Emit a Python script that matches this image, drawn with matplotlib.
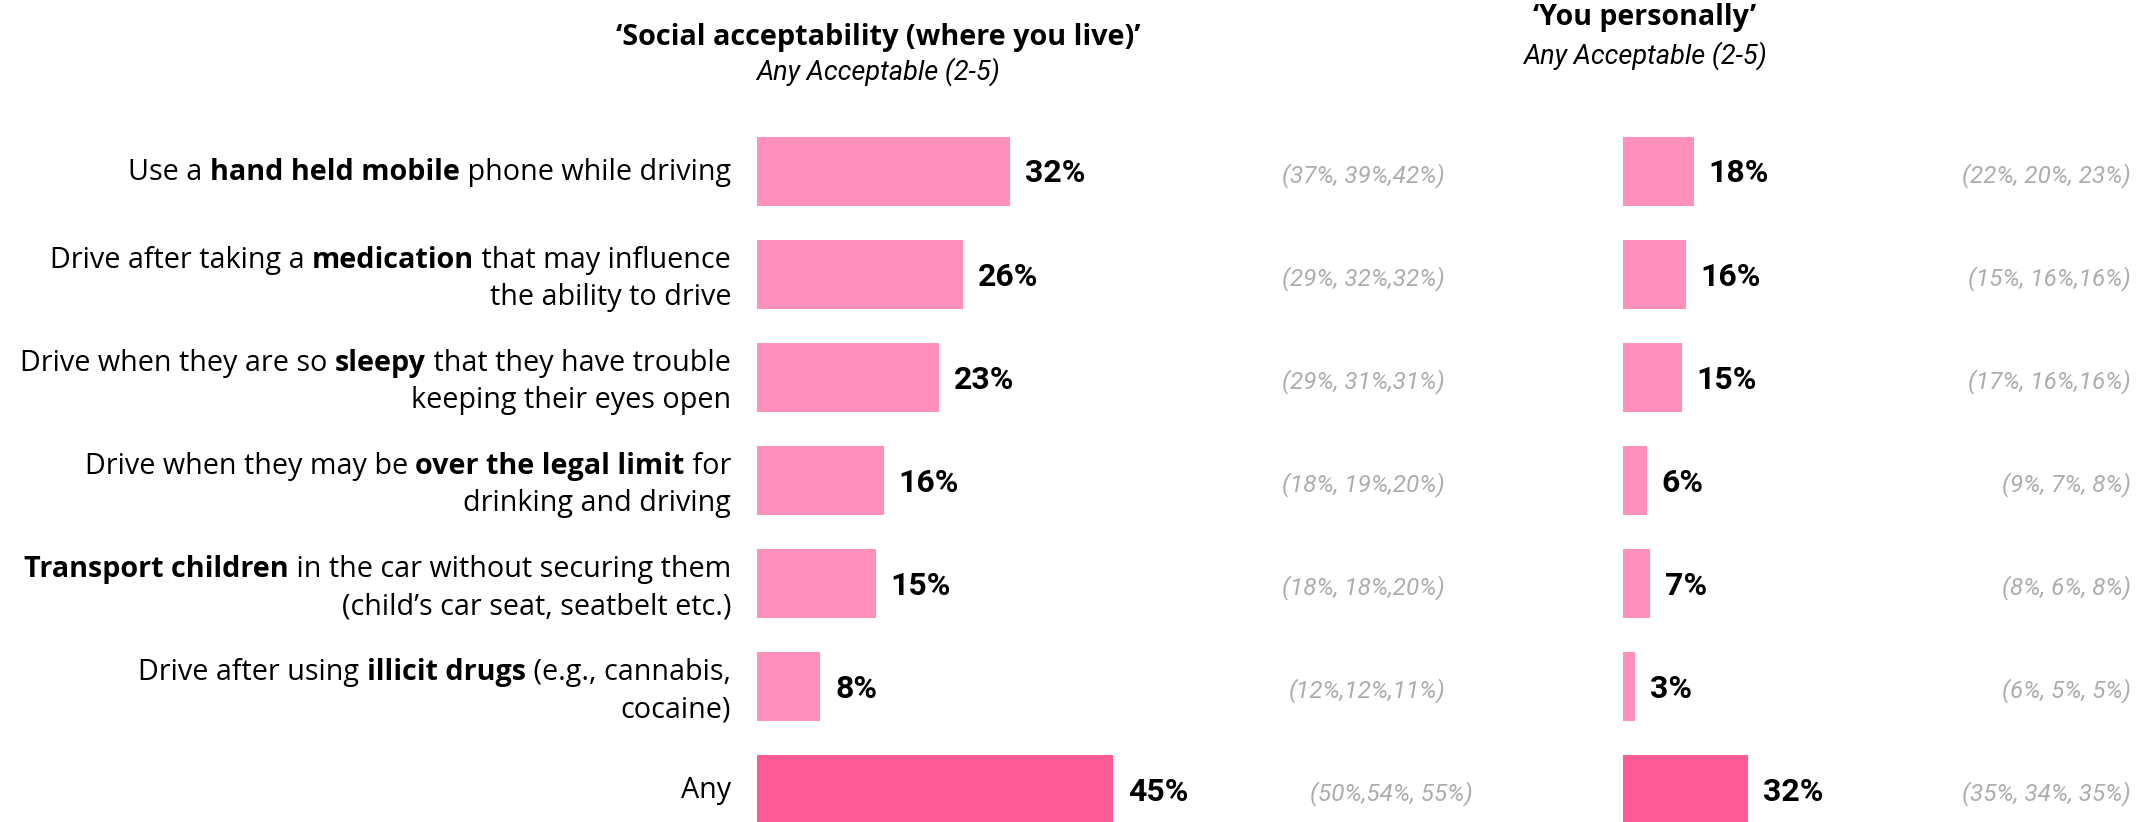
import matplotlib.pyplot as plt

plt.rcParams['font.family'] = ['Roboto', 'DejaVu Sans']

# labels: ** marks the bold part, one string per line
labels = [
    ["Use a **hand held mobile** phone while driving"],
    ["Drive after taking a **medication** that may influence", "the ability to drive"],
    ["Drive when they are so **sleepy** that they have trouble", "keeping their eyes open"],
    ["Drive when they may be **over the legal limit** for", "drinking and driving"],
    ["**Transport children** in the car without securing them", "(child\u2019s car seat, seatbelt etc.)"],
    ["Drive after using **illicit drugs** (e.g., cannabis,", "cocaine)"],
    ["Any"],
]
social = [32, 26, 23, 16, 15, 8, 45]
personal = [18, 16, 15, 6, 7, 3, 32]
social_prev = ["(37%, 39%,42%)", "(29%, 32%,32%)", "(29%, 31%,31%)", "(18%, 19%,20%)",
               "(18%, 18%,20%)", "(12%,12%,11%)", "(50%,54%, 55%)"]
personal_prev = ["(22%, 20%, 23%)", "(15%, 16%,16%)", "(17%, 16%,16%)", "(9%, 7%, 8%)",
                 "(8%, 6%, 8%)", "(6%, 5%, 5%)", "(35%, 34%, 35%)"]

LIGHT = '#FF8FBB'
DARK = '#FF5A96'
GREY = '#ADADAD'
LABEL_FONT = ['Open Sans', 'DejaVu Sans']

W, H = 2151, 822
ROW0, STEP = 171.5, 103.0

fig = plt.figure(figsize=(W / 100, H / 100), dpi=100)
renderer = fig.canvas.get_renderer()


def fy(py):
    # pixel from top -> figure fraction
    return 1 - py / H


def row_px(i):
    return ROW0 + i * STEP


def make_axes(left_px, px_per_pct):
    ax = fig.add_axes([left_px / W, 0, px_per_pct * 60 / W, 1])
    ax.set_xlim(0, 60)
    ax.set_ylim((H - ROW0) / STEP, -ROW0 / STEP)
    ax.axis('off')
    return ax


def text_width(s, **kw):
    t = fig.text(0, 0, '|' + s + '|', **kw)
    w = t.get_window_extent(renderer).width
    t.remove()
    t = fig.text(0, 0, '||', **kw)
    w -= t.get_window_extent(renderer).width
    t.remove()
    return w


def rich_line(x_right, y_center, line, size=20.7):
    parts = line.split('**')
    styles = ['normal' if k % 2 == 0 else 'bold' for k in range(len(parts))]
    widths = [text_width(p, fontsize=size, fontweight=s, family=LABEL_FONT)
              for p, s in zip(parts, styles)]
    x = x_right - sum(widths)
    base = y_center + size * 1.389 * 0.357
    for p, s, w in zip(parts, styles, widths):
        if p:
            fig.text(x / W, fy(base), p, fontsize=size, fontweight=s, family=LABEL_FONT,
                     ha='left', va='baseline', color='black')
        x += w


ax1 = make_axes(757, 7.92)
ax2 = make_axes(1623, 3.92)

colors = [LIGHT] * (len(social) - 1) + [DARK]
rows = list(range(len(social)))

for ax, vals in ((ax1, social), (ax2, personal)):
    ax.barh(rows, vals, height=0.666, color=colors)
    for i, v in enumerate(vals):
        ax.annotate(f"{v}%", (v, i), xytext=(15, -2), textcoords='offset pixels',
                    ha='left', va='center', fontsize=23, fontweight='bold')

# category labels
for i, lines in enumerate(labels):
    c = row_px(i)
    if len(lines) == 1:
        rich_line(731, c - 2, lines[0])
    else:
        rich_line(731, c + 2 - 18.5, lines[0])
        rich_line(731, c + 2 + 18.5, lines[1])

# previous waves in grey
for i, (a, b) in enumerate(zip(social_prev, personal_prev)):
    c = row_px(i)
    xa = 1473 if i == len(social_prev) - 1 else 1445
    fig.text(xa / W, fy(c + 4), a, ha='right', va='center', fontsize=17.5,
             style='italic', color=GREY)
    fig.text(2131 / W, fy(c + 4), b, ha='right', va='center', fontsize=17.5,
             style='italic', color=GREY)

# column headers
fig.text(878 / W, fy(37), "\u2018Social acceptability (where you live)\u2019", ha='center',
         va='center', fontsize=20.8, fontweight='bold', family=LABEL_FONT)
fig.text(878 / W, fy(72), "Any Acceptable (2-5)", ha='center', va='center',
         fontsize=19.5, style='italic')
fig.text(1645 / W, fy(18), "\u2018You personally\u2019", ha='center', va='center',
         fontsize=20.5, fontweight='bold', family=LABEL_FONT)
fig.text(1645 / W, fy(56), "Any Acceptable (2-5)", ha='center', va='center',
         fontsize=19.5, style='italic')

fig.savefig('out.png', dpi=100, facecolor='white')
